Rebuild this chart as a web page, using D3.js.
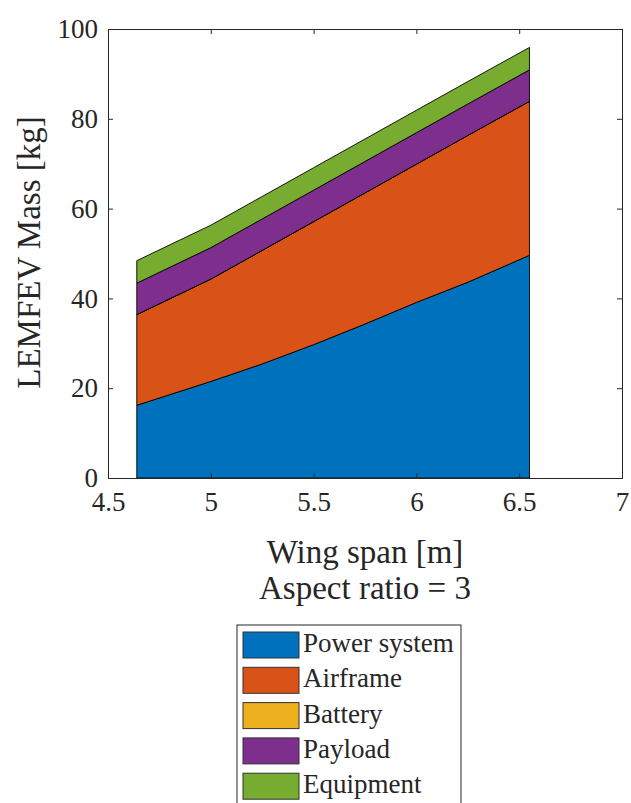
<!DOCTYPE html>
<html>
<head>
<meta charset="utf-8">
<script src="https://cdn.jsdelivr.net/npm/d3@7"></script>
<style>
  html, body { margin: 0; padding: 0; background: #ffffff; }
  svg { display: block; }
  text { font-family: "Liberation Serif", "Times New Roman", serif; fill: #262626; }
</style>
</head>
<body>
<svg id="chart" width="631" height="803"></svg>
<script>
// Mass breakdown against wing span (aspect ratio 3)
const wingSpan    = [4.64, 5.0, 5.25, 5.5, 5.75, 6.0, 6.25, 6.55];
const powerSystem = [16.2, 21.5, 25.4, 29.7, 34.3, 39.1, 43.6, 49.6];
const airframe    = [20.2, 22.8, 25.3, 27.4, 29.2, 30.8, 32.7, 34.3];
const battery     = [0, 0, 0, 0, 0, 0, 0, 0];
const payload     = [7, 7, 7, 7, 7, 7, 7, 7];
const equipment   = [5, 5, 5, 5, 5, 5, 5, 5];

const seriesNames = ["Power system", "Airframe", "Battery", "Payload", "Equipment"];
const seriesKeys  = ["power", "airframe", "battery", "payload", "equipment"];
const seriesColors = ["#0072BD", "#D95319", "#EDB120", "#7E2F8E", "#77AC30"];

const xTicks = [4.5, 5, 5.5, 6, 6.5, 7];
const yTicks = [0, 20, 40, 60, 80, 100];

const rows = wingSpan.map((s, i) => ({
  span: s,
  power: powerSystem[i],
  airframe: airframe[i],
  battery: battery[i],
  payload: payload[i],
  equipment: equipment[i]
}));

const svg = d3.select("#chart");
const axisColor = "#262626";

const plot = { left: 108, right: 622, top: 29, bottom: 478 };

const x = d3.scaleLinear().domain([4.5, 7]).range([plot.left, plot.right]);
const y = d3.scaleLinear().domain([0, 100]).range([plot.bottom, plot.top]);

// Stacked areas
const stacked = d3.stack().keys(seriesKeys)(rows);
const area = d3.area()
  .x(d => x(d.data.span))
  .y0(d => y(d[0]))
  .y1(d => y(d[1]));

svg.append("g")
  .selectAll("path")
  .data(stacked)
  .join("path")
  .attr("d", area)
  .attr("fill", (d, i) => seriesColors[i])
  .attr("stroke", "#000")
  .attr("stroke-width", 0.9)
  .attr("stroke-linejoin", "round");

// Axes with inward ticks on all four sides
const tickLen = 5;
const fmt = d3.format("");

const gx = svg.append("g").attr("transform", `translate(0,${plot.bottom})`)
  .call(d3.axisBottom(x).tickValues(xTicks).tickSize(-tickLen).tickPadding(14).tickFormat(fmt));
const gxTop = svg.append("g").attr("transform", `translate(0,${plot.top})`)
  .call(d3.axisTop(x).tickValues(xTicks).tickSize(-tickLen).tickFormat(""));
const gy = svg.append("g").attr("transform", `translate(${plot.left},0)`)
  .call(d3.axisLeft(y).tickValues(yTicks).tickSize(-tickLen).tickPadding(10).tickFormat(fmt));
const gyRight = svg.append("g").attr("transform", `translate(${plot.right},0)`)
  .call(d3.axisRight(y).tickValues(yTicks).tickSize(-tickLen).tickFormat(""));

[gx, gxTop, gy, gyRight].forEach(g => {
  g.select(".domain").attr("stroke", axisColor).attr("stroke-width", 1);
  g.selectAll(".tick line").attr("stroke", axisColor).attr("stroke-width", 1);
  g.selectAll(".tick text")
    .attr("font-family", "Liberation Serif, serif")
    .attr("font-size", 27)
    .attr("fill", axisColor);
});
gx.selectAll(".tick text").attr("dy", "0.71em");

// Axis labels
svg.append("text")
  .attr("transform", `translate(40,${(123 + 382) / 2}) rotate(-90)`)
  .attr("text-anchor", "middle")
  .attr("font-size", 33)
  .text("LEMFEV Mass [kg]");

svg.append("text")
  .attr("x", (plot.left + plot.right) / 2)
  .attr("y", 563)
  .attr("text-anchor", "middle")
  .attr("font-size", 33)
  .text("Wing span [m]");

svg.append("text")
  .attr("x", (plot.left + plot.right) / 2)
  .attr("y", 599)
  .attr("text-anchor", "middle")
  .attr("font-size", 33)
  .text("Aspect ratio = 3");

// Legend
const legend = svg.append("g").attr("transform", "translate(237,625)");
legend.append("rect")
  .attr("x", 0).attr("y", 0)
  .attr("width", 224).attr("height", 200)
  .attr("fill", "#fff")
  .attr("stroke", axisColor)
  .attr("stroke-width", 1);

const rowStep = 35.3;
const item = legend.selectAll("g.item")
  .data(seriesNames)
  .join("g")
  .attr("class", "item")
  .attr("transform", (d, i) => `translate(6,${7 + i * rowStep})`);

item.append("rect")
  .attr("width", 56).attr("height", 26)
  .attr("fill", (d, i) => seriesColors[i])
  .attr("stroke", "#333")
  .attr("stroke-width", 1);

item.append("text")
  .attr("x", 60)
  .attr("y", 20)
  .attr("font-size", 27)
  .text(d => d);
</script>
</body>
</html>
